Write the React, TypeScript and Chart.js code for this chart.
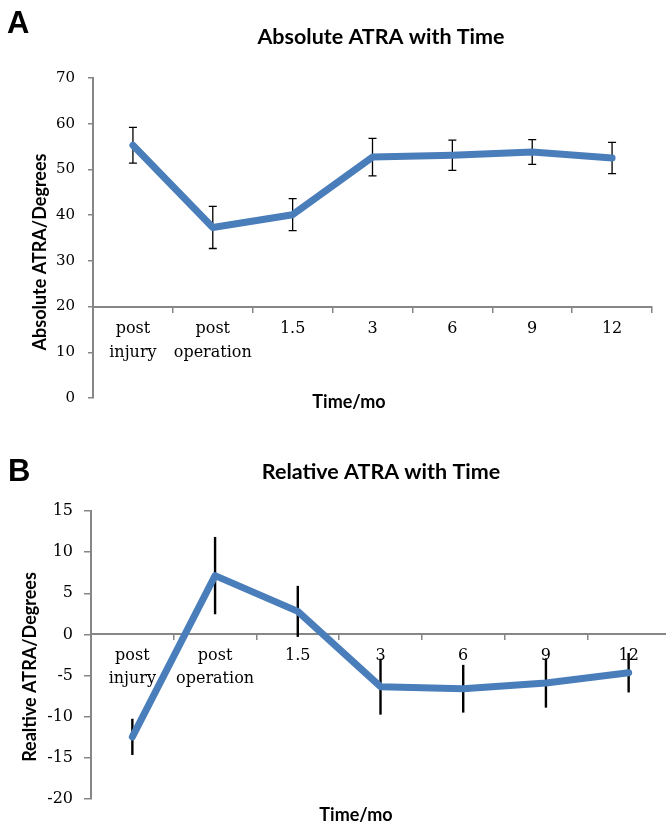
import React, { useEffect, useRef } from "react";
import { Chart, registerables } from "chart.js";

Chart.register(...registerables);

// ---------- data ----------
const categories: (string | string[])[] = [
  ["post", "injury"],
  ["post", "operation"],
  "1.5",
  "3",
  "6",
  "9",
  "12",
];
const absoluteMean = [55.3, 37.3, 40.1, 52.7, 53.1, 53.8, 52.5];
const absoluteErr = [3.9, 4.6, 3.5, 4.1, 3.3, 2.7, 3.4];
const relativeMean = [-12.45, 7.15, 2.8, -6.35, -6.6, -5.9, -4.65];
const relativeErr = [2.2, 4.7, 3.1, 3.4, 2.9, 3.0, 2.4];
const absoluteTicks = { min: 0, max: 70, step: 10 };
const relativeTicks = { min: -20, max: 15, step: 5 };

const LINE = "#4A7EBB";
const AXIS = "#868686";
const SERIF = '"DejaVu Serif", serif';
const SANS = 'Lato, "Open Sans", sans-serif';

// ---------- plugins ----------
const errorBarPlugin = {
  id: "errbars",
  beforeDatasetsDraw(chart: any, _args: any, opts: any) {
    const { ctx, scales } = chart;
    const means: number[] = chart.data.datasets[0].data;
    const errs: number[] = opts.errors || [];
    ctx.save();
    ctx.strokeStyle = opts.color || "#000";
    ctx.lineWidth = opts.width || 1;
    ctx.lineCap = "butt";
    means.forEach((m, i) => {
      const e = errs[i];
      if (e == null) return;
      const x = scales.x.getPixelForValue(i);
      const yt = scales.y.getPixelForValue(m + e);
      const yb = scales.y.getPixelForValue(m - e);
      ctx.beginPath();
      ctx.moveTo(x, yt);
      ctx.lineTo(x, yb);
      if (opts.cap) {
        ctx.moveTo(x - opts.cap, yt);
        ctx.lineTo(x + opts.cap, yt);
        ctx.moveTo(x - opts.cap, yb);
        ctx.lineTo(x + opts.cap, yb);
      }
      ctx.stroke();
    });
    ctx.restore();
  },
};

const decorPlugin = {
  id: "decor",
  afterDraw(chart: any, _args: any, o: any) {
    const ctx = chart.ctx;
    ctx.save();
    ctx.fillStyle = "#000";
    ctx.textBaseline = "alphabetic";
    ctx.textAlign = "left";
    ctx.font = `bold 31px "Liberation Sans", Arial, sans-serif`;
    ctx.fillText(o.letter, o.letterX, o.letterY);

    ctx.textAlign = "center";
    ctx.font = `bold ${o.titleSize}px ${SANS}`;
    ctx.fillText(o.title, o.titleX, o.titleY);

    ctx.font = `bold ${o.axisSize}px ${SANS}`;
    ctx.fillText(o.xTitle, o.xTitleX, o.xTitleY);

    ctx.translate(o.yTitleX, o.yTitleY);
    ctx.rotate(-Math.PI / 2);
    ctx.textBaseline = "middle";
    ctx.fillText(o.yTitle, 0, 0);
    ctx.restore();
  },
};

function makeConfig(p: {
  means: number[];
  errors: number[];
  ticks: { min: number; max: number; step: number };
  crossAt: number;
  padding: { left: number; right: number; top: number; bottom: number };
  yWidth: number;
  yTickLen: number;
  yTickPad: number;
  yTickSize: number;
  xTickPad: number;
  errOpts: any;
  decor: any;
}): any {
  return {
    type: "line",
    data: {
      labels: categories,
      datasets: [
        {
          data: p.means,
          borderColor: LINE,
          backgroundColor: LINE,
          borderWidth: 7,
          pointRadius: 0,
          tension: 0,
          fill: false,
          borderCapStyle: "round",
          borderJoinStyle: "round",
        },
      ],
    },
    options: {
      responsive: false,
      animation: false,
      devicePixelRatio: 1,
      layout: { padding: p.padding },
      plugins: {
        legend: { display: false },
        tooltip: { enabled: false },
        title: { display: false },
        errbars: { errors: p.errors, ...p.errOpts },
        decor: p.decor,
      },
      scales: {
        x: {
          type: "category",
          position: { y: p.crossAt },
          offset: true,
          grid: {
            offset: true,
            drawOnChartArea: false,
            drawTicks: true,
            tickLength: 5,
            color: AXIS,
            lineWidth: 1.5,
          },
          border: { display: true, color: AXIS, width: 2 },
          ticks: {
            color: "#000",
            font: { family: SERIF, size: 16, lineHeight: 1.45 },
            padding: p.xTickPad,
            maxRotation: 0,
            autoSkip: false,
          },
        },
        y: {
          min: p.ticks.min,
          max: p.ticks.max,
          ticks: {
            stepSize: p.ticks.step,
            color: "#000",
            font: { family: SERIF, size: p.yTickSize },
            padding: p.yTickPad,
          },
          grid: {
            drawOnChartArea: false,
            drawTicks: true,
            tickLength: p.yTickLen,
            color: AXIS,
            lineWidth: 1.5,
          },
          border: { display: true, color: AXIS, width: 2 },
          afterFit: (s: any) => {
            s.width = p.yWidth;
          },
        },
      },
    },
    plugins: [errorBarPlugin, decorPlugin],
  };
}

function ChartCanvas({
  config,
  width,
  height,
  top,
}: {
  config: any;
  width: number;
  height: number;
  top: number;
}) {
  const ref = useRef<HTMLCanvasElement | null>(null);
  useEffect(() => {
    if (!ref.current) return;
    const chart = new Chart(ref.current, config);
    return () => chart.destroy();
  }, [config]);
  return (
    <canvas
      ref={ref}
      width={width}
      height={height}
      style={{
        position: "absolute",
        left: 0,
        top,
        width,
        height,
        display: "block",
      }}
    />
  );
}

const configA = makeConfig({
  means: absoluteMean,
  errors: absoluteErr,
  ticks: absoluteTicks,
  crossAt: 20,
  padding: { left: 0, right: 14, top: 78, bottom: 16 },
  yWidth: 93,
  yTickLen: 5,
  yTickPad: 13,
  yTickSize: 15,
  xTickPad: 6,
  errOpts: { color: "#000", width: 1.3, cap: 4 },
  decor: {
    letter: "A",
    letterX: 7,
    letterY: 33,
    title: "Absolute ATRA with Time",
    titleSize: 21.5,
    titleX: 381,
    titleY: 44,
    axisSize: 18,
    xTitle: "Time/mo",
    xTitleX: 349,
    xTitleY: 408,
    yTitle: "Absolute ATRA/Degrees",
    yTitleX: 40,
    yTitleY: 252,
  },
});

const configB = makeConfig({
  means: relativeMean,
  errors: relativeErr,
  ticks: relativeTicks,
  crossAt: 0,
  padding: { left: 0, right: 10, top: 91, bottom: 25 },
  yWidth: 91,
  yTickLen: 7,
  yTickPad: 11,
  yTickSize: 16,
  xTickPad: 5,
  errOpts: { color: "#000", width: 2.4, cap: 0 },
  decor: {
    letter: "B",
    letterX: 8,
    letterY: 61,
    title: "Relative ATRA with Time",
    titleSize: 21.5,
    titleX: 381,
    titleY: 59,
    axisSize: 18,
    xTitle: "Time/mo",
    xTitleX: 356,
    xTitleY: 401,
    yTitle: "Realtive ATRA/Degrees",
    yTitleX: 30,
    yTitleY: 247,
  },
});

export default function App() {
  return (
    <div
      style={{
        position: "absolute",
        left: 0,
        top: 0,
        width: 666,
        height: 824,
        overflow: "hidden",
        background: "#fff",
      }}
    >
      <ChartCanvas config={configA} width={666} height={420} top={0} />
      <ChartCanvas config={configB} width={680} height={404} top={420} />
    </div>
  );
}
